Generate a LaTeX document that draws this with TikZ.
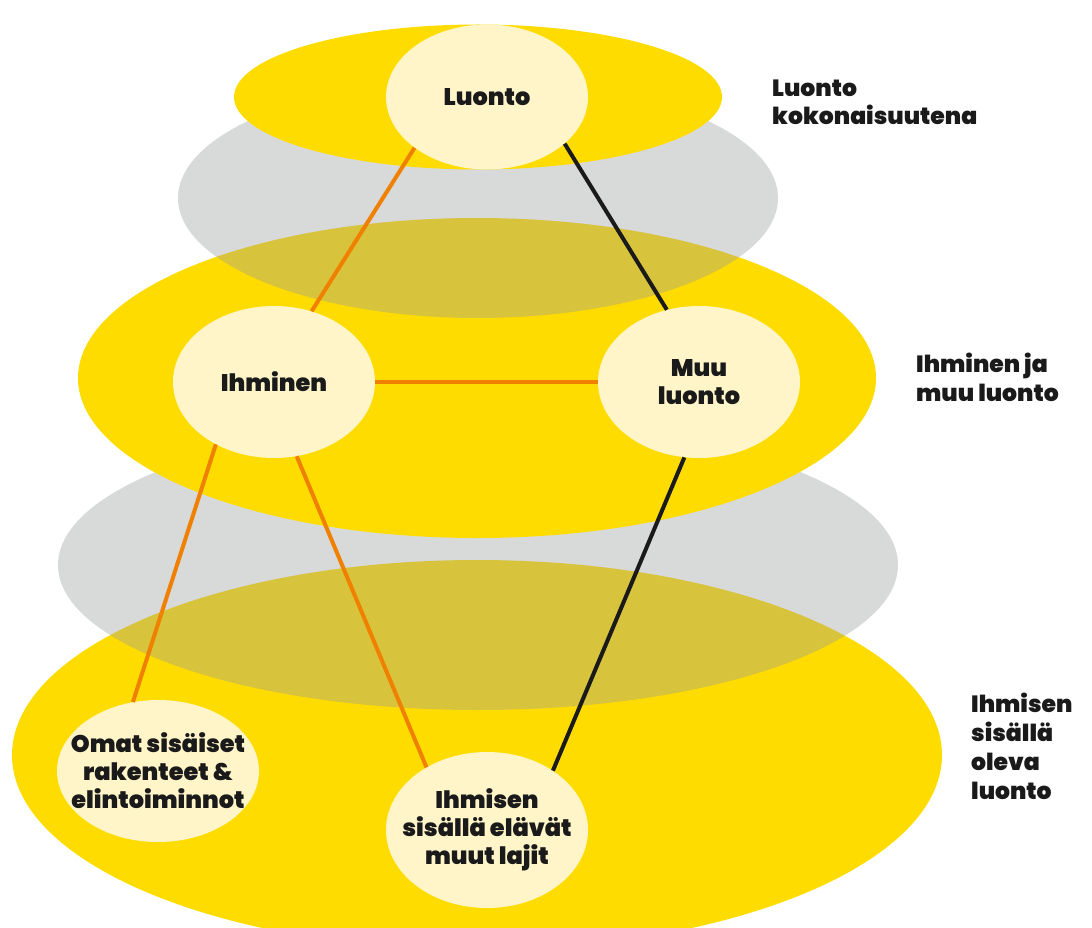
\documentclass[tikz,border=0pt]{standalone}
\usepackage{fontspec}
\setmainfont{Poppins}[BoldFont={Poppins Black}]
\usetikzlibrary{shapes.geometric}
\definecolor{keltainen}{HTML}{FFDC00}
\definecolor{vaalea}{HTML}{FFF5C8}
\definecolor{oranssi}{HTML}{F08000}
\definecolor{harmaa}{HTML}{9B9C9C}
\definecolor{teksti}{HTML}{1A1A1A}

\begin{document}
\begin{tikzpicture}[x=1pt, y=-1pt,
    taso/.style={ellipse, fill=keltainen, inner sep=0pt},
    varjo/.style={ellipse, fill=harmaa, fill opacity=0.39, inner sep=0pt},
    pallo/.style={ellipse, fill=vaalea, inner sep=-20pt, minimum width=202pt, align=center,
        text=teksti, font=\bfseries\fontsize{24}{28}\selectfont},
    selite/.style={anchor=base west, align=left, inner sep=0pt, text=teksti,
        font=\bfseries\fontsize{23.5}{28.7}\selectfont},
    viiva/.style={line width=4pt, oranssi},
    musta/.style={line width=4pt, teksti}]
    \useasboundingbox (0,0) rectangle (1092,928);
    \node[taso, minimum width=930pt, minimum height=390pt] (alataso) at (477,755) {};
    \node[varjo, minimum width=840pt, minimum height=290pt] (alavarjo) at (478,565) {};
    \node[taso, minimum width=798pt, minimum height=320pt] (keskitaso) at (477,378) {};
    \node[varjo, minimum width=600pt, minimum height=240pt] (ylavarjo) at (478,198) {};
    \node[taso, minimum width=488pt, minimum height=145pt] (ylataso) at (478,97) {};

    \node[pallo, minimum height=145pt] (luonto) at (487,97) {Luonto};
    \node[pallo, minimum height=152pt] (ihminen) at (274,382) {Ihminen};
    \node[pallo, minimum height=152pt] (muu) at (699,382) {Muu\\luonto};
    \node[pallo, minimum height=142pt] (omat) at (158,771) {Omat sisäiset\\rakenteet \&\\elintoiminnot};
    \node[pallo, minimum height=156pt] (sisalla) at (487,830) {Ihmisen\\sisällä elävät\\muut lajit};

    \draw[viiva] (luonto.215) -- (ihminen.62);
    \draw[musta] (luonto.-31) -- (muu.114);
    \draw[viiva] (ihminen.east) -- (muu.west);
    \draw[viiva] (ihminen.227) -- (omat.110);
    \draw[viiva] (ihminen.287) -- (sisalla.134);
    \draw[musta] (muu.259) -- (sisalla.42);

    \node[selite] (kokonaisuus) at (772,125) {Luonto\\kokonaisuutena};
    \node[selite] (ihmisetmuut) at (916,401) {Ihminen ja\\muu luonto};
    \node[selite] (sisainen) at (971,799) {Ihmisen\\sisällä\\oleva\\luonto};
\end{tikzpicture}
\end{document}
